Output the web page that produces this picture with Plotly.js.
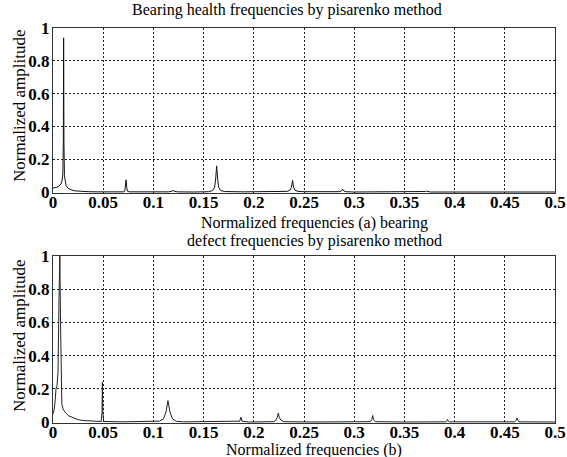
<!DOCTYPE html>
<html>
<head>
<meta charset="utf-8">
<script src="https://cdn.plot.ly/plotly-3.0.1.min.js"></script>
<style>html,body{margin:0;padding:0;background:#fff;}#chart{width:567px;height:457px;}</style>
</head>
<body>
<div id="chart"></div>
<script>
// Panel (a): bearing health spectrum
const healthFreq = [0, 0.002, 0.004, 0.006, 0.008, 0.009, 0.0098, 0.0103, 0.0106, 0.0109, 0.0114, 0.012, 0.013, 0.015, 0.018, 0.022, 0.028, 0.035, 0.045, 0.06,
  0.07, 0.0715, 0.0722, 0.0728, 0.0734, 0.0742, 0.076, 0.09,
  0.115, 0.1185, 0.1196, 0.1207, 0.124, 0.14,
  0.155, 0.159, 0.161, 0.162, 0.163, 0.164, 0.165, 0.167, 0.171, 0.19,
  0.225, 0.233, 0.236, 0.2375, 0.2386, 0.2397, 0.241, 0.244, 0.25, 0.26,
  0.28, 0.285, 0.2875, 0.2885, 0.2895, 0.292, 0.3, 0.33,
  0.368, 0.371, 0.372, 0.373, 0.376, 0.42, 0.5];
const healthAmp = [0.025, 0.027, 0.03, 0.037, 0.05, 0.07, 0.11, 0.3, 0.94, 0.3, 0.1, 0.06, 0.04, 0.025, 0.015, 0.008, 0.005, 0.003, 0.002, 0.001,
  0.002, 0.006, 0.03, 0.075, 0.03, 0.006, 0.002, 0.001,
  0.002, 0.006, 0.011, 0.006, 0.002, 0.001,
  0.003, 0.01, 0.03, 0.08, 0.16, 0.08, 0.03, 0.01, 0.004, 0.002,
  0.002, 0.005, 0.012, 0.03, 0.072, 0.03, 0.012, 0.005, 0.003, 0.002,
  0.001, 0.003, 0.008, 0.018, 0.008, 0.003, 0.001, 0.001,
  0.001, 0.004, 0.006, 0.004, 0.001, 0.001, 0.001];

// Panel (b): bearing defect spectrum
const defectFreq = [0, 0.001, 0.002, 0.003, 0.004, 0.005, 0.006, 0.0068, 0.0075, 0.008, 0.0088, 0.01, 0.012, 0.015, 0.02, 0.025, 0.03, 0.04,
  0.048, 0.0488, 0.0492, 0.0496, 0.0505, 0.07,
  0.1, 0.106, 0.11, 0.1125, 0.1145, 0.1165, 0.119, 0.123, 0.13,
  0.17, 0.186, 0.1872, 0.1882, 0.195,
  0.22, 0.222, 0.2235, 0.2244, 0.2253, 0.227, 0.23, 0.26,
  0.316, 0.3175, 0.3184, 0.3193, 0.321, 0.35,
  0.391, 0.3925, 0.393, 0.3935, 0.395,
  0.46, 0.4612, 0.462, 0.4628, 0.464, 0.5];
const defectAmp = [0.05, 0.07, 0.12, 0.2, 0.22, 0.3, 0.75, 1.0, 0.6, 0.2, 0.11, 0.08, 0.06, 0.04, 0.025, 0.015, 0.01, 0.005,
  0.004, 0.06, 0.24, 0.06, 0.004, 0.002,
  0.002, 0.006, 0.02, 0.06, 0.13, 0.06, 0.02, 0.005, 0.002,
  0.002, 0.006, 0.03, 0.006, 0.001,
  0.003, 0.012, 0.03, 0.055, 0.03, 0.012, 0.003, 0.001,
  0.003, 0.015, 0.04, 0.015, 0.003, 0.001,
  0.002, 0.008, 0.016, 0.008, 0.002,
  0.002, 0.01, 0.025, 0.01, 0.002, 0.001];

const xTickVals = [0, 0.05, 0.1, 0.15, 0.2, 0.25, 0.3, 0.35, 0.4, 0.45, 0.5];
const xTickText = ['0', '0.05', '0.1', '0.15', '0.2', '0.25', '0.3', '0.35', '0.4', '0.45', '0.5'];
const yTickVals = [0, 0.2, 0.4, 0.6, 0.8, 1];
const yTickText = ['0', '0.2', '0.4', '0.6', '0.8', '1'];

const W = 567, H = 457, L = 53, R = 12;
const px = x => (x - L) / (W - L - R);
const py = y => 1 - y / H;

const serif = "'Liberation Serif', 'Times New Roman', serif";
const tickFont = {family: serif, size: 17, color: '#000', weight: 'bold'};

function xAxis(anchor) {
  return {
    range: [0, 0.5], tickvals: xTickVals, ticktext: xTickText, tickfont: tickFont,
    ticklabeloverflow: 'allow', ticklabelstandoff: -6,
    showgrid: true, gridcolor: '#222', griddash: '2px,2px', gridwidth: 1,
    showline: true, mirror: true, linecolor: '#333', linewidth: 1,
    zeroline: false, ticks: '', anchor: anchor, fixedrange: true
  };
}
function yAxis(domain, anchor) {
  return {
    domain: domain, range: [-0.005, 1.0], tickvals: yTickVals, ticktext: yTickText, tickfont: tickFont,
    ticklabeloverflow: 'allow', ticklabelstandoff: -1,
    showgrid: true, gridcolor: '#222', griddash: '2px,2px', gridwidth: 1,
    showline: true, mirror: true, linecolor: '#333', linewidth: 1,
    zeroline: false, ticks: '', anchor: anchor, fixedrange: true
  };
}

const traces = [
  {x: healthFreq, y: healthAmp, type: 'scatter', mode: 'lines', line: {color: '#111', width: 1}, xaxis: 'x', yaxis: 'y', hoverinfo: 'skip'},
  {x: defectFreq, y: defectAmp, type: 'scatter', mode: 'lines', line: {color: '#222', width: 1}, xaxis: 'x2', yaxis: 'y2', hoverinfo: 'skip'}
];

const textFont = {family: serif, size: 16, color: '#000'};
const ann = (text, x, y, angle, size) => ({
  text: text, xref: 'paper', yref: 'paper', x: px(x), y: py(y),
  xanchor: 'center', yanchor: 'middle', showarrow: false,
  font: Object.assign({}, textFont, size ? {size: size} : {}), textangle: angle || 0
});

const layout = {
  width: W, height: H,
  margin: {l: L, r: R, t: 0, b: 0},
  paper_bgcolor: '#fff', plot_bgcolor: '#fff',
  showlegend: false,
  xaxis: xAxis('y'),
  yaxis: yAxis([py(193), py(28)], 'x'),
  xaxis2: xAxis('y2'),
  yaxis2: yAxis([py(423), py(256)], 'x2'),
  annotations: [
    ann('Bearing health frequencies by pisarenko method', 287, 10),
    ann('Normalized frequencies (a) bearing', 314, 223),
    ann('defect frequencies by pisarenko method', 314, 241),
    ann('Normalized frequencies (b)', 314, 450),
    ann('Normalized amplitude', 19, 106, -90, 17),
    ann('Normalized amplitude', 19, 336, -90, 17)
  ]
};

Plotly.newPlot('chart', traces, layout, {staticPlot: true, displayModeBar: false});
</script>
</body>
</html>
